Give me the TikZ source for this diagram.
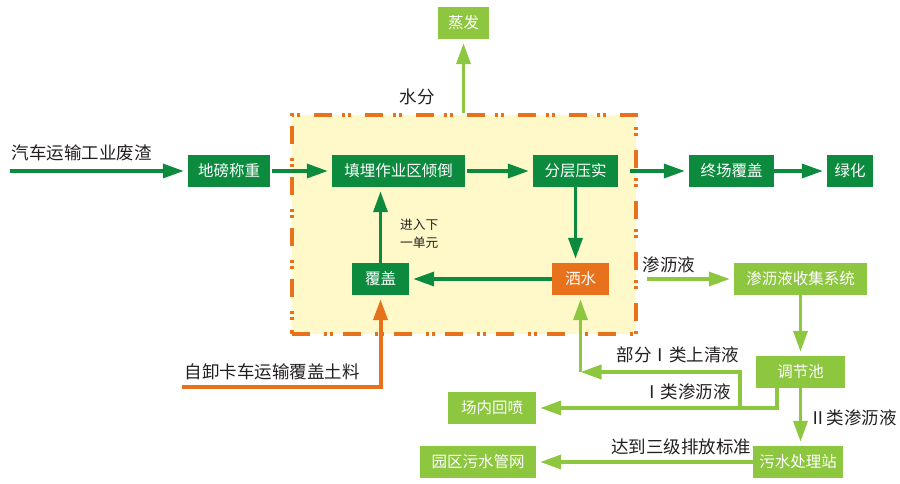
\documentclass[tikz,border=0pt]{standalone}
\usepackage{fontspec}
\setmainfont{Noto Sans CJK SC}
\usepackage{tikz}
\usetikzlibrary{arrows.meta}
\definecolor{darkgreen}{RGB}{12,138,62}
\definecolor{lightgreen}{RGB}{141,198,63}
\definecolor{landorange}{RGB}{232,114,28}
\definecolor{paleyellow}{RGB}{255,249,202}
\definecolor{inkgray}{RGB}{35,31,32}
\tikzstyle{box}=[minimum height=32pt,inner sep=0pt,text=white,font=\fontsize{15.5}{18}\selectfont]
\tikzstyle{darkbox}=[box,fill=darkgreen]
\tikzstyle{lightbox}=[box,fill=lightgreen]
\tikzstyle{orangebox}=[box,fill=landorange]
\tikzstyle{caption}=[text=inkgray,inner sep=0pt,font=\fontsize{17.5}{20}\selectfont]
\tikzstyle{flow}=[line width=3.5pt,-{Triangle[length=21pt,width=14pt]},shorten >=4pt]
\tikzstyle{darkflow}=[flow,draw=darkgreen]
\tikzstyle{lightflow}=[flow,draw=lightgreen]
\tikzstyle{orangeflow}=[flow,draw=landorange,line width=4pt]

\begin{document}
\begin{tikzpicture}[x=1pt,y=-1pt]
      \useasboundingbox (0,0) rectangle (900,483);
      \node[draw=landorange,fill=paleyellow,line width=4pt,dash pattern=on 18pt off 14pt on 3pt off 3pt on 3pt off 10pt,
            minimum width=344pt,minimum height=219pt,inner sep=0pt] at (464,224.5) (zone) {};

      \node[lightbox,minimum width=51pt]  at (463.5, 23) (zhengfa) {蒸发};
      \node[darkbox,minimum width=82pt]   at (229, 171)  (dibang) {地磅称重};
      \node[darkbox,minimum width=133pt]  at (398.5, 171) (tianmai) {填埋作业区倾倒};
      \node[darkbox,minimum width=85pt]   at (575.5, 171) (yashi) {分层压实};
      \node[darkbox,minimum width=85pt]   at (731.5, 171) (zhongchang) {终场覆盖};
      \node[darkbox,minimum width=46pt]   at (850, 171)  (lvhua) {绿化};
      \node[orangebox,minimum width=57pt] at (580.5, 279) (sashui) {洒水};
      \node[darkbox,minimum width=57pt]   at (380.5, 279) (fugai) {覆盖};
      \node[lightbox,minimum width=133pt] at (800.5, 279) (shouji) {渗沥液收集系统};
      \node[lightbox,minimum width=89pt]  at (800.5, 372) (tiaojie) {调节池};
      \node[lightbox,minimum width=90pt]  at (798, 462)  (wushui) {污水处理站};
      \node[lightbox,minimum width=88pt]  at (492, 408)  (huipen) {场内回喷};
      \node[lightbox,minimum width=116pt] at (478, 462)  (guanwang) {园区污水管网};

      \node[caption] at (82, 153)  (qiche) {汽车运输工业废渣};
      \node[caption] at (417, 97)  (shuifen) {水分};
      \node[caption,font=\fontsize{12.7}{18}\selectfont,align=left,anchor=west] at (400, 234) (jinru) {进入下\\一单元};
      \node[caption] at (272, 372) (zixie) {自卸卡车运输覆盖土料};
      \node[caption] at (669, 265) (shenli) {渗沥液};
      \node[caption] at (678, 355) (bufen) {部分Ⅰ类上清液};
      \node[caption] at (687, 392) (leiyi) {Ⅰ类渗沥液};
      \node[caption] at (853, 418) (leier) {Ⅱ类渗沥液};
      \node[caption] at (681, 447) (dadao) {达到三级排放标准};

      \coordinate (truck) at (10, 171);
      \coordinate (soil) at (182, 387);
      \coordinate (leach) at (647, 279);
      \coordinate (split) at (740, 408);

      \draw[darkflow] (truck) -- (dibang);
      \draw[darkflow,shorten <=2pt] (dibang) -- (tianmai);
      \draw[darkflow,shorten <=2pt] (tianmai) -- (yashi);
      \draw[darkflow,shorten <=12pt] (yashi) -- (zhongchang);
      \draw[darkflow] (zhongchang) -- (lvhua);
      \draw[darkflow] (yashi.south) -- (yashi.south |- sashui.north);
      \draw[darkflow] (sashui) -- (fugai);
      \draw[darkflow] (fugai.north) -- (fugai.north |- tianmai.south);
      \draw[orangeflow] (soil) -| (fugai.south);
      \draw[lightflow] (zone.north -| zhengfa.south) -- (zhengfa.south);
      \draw[lightflow] (leach) -- (shouji);
      \draw[lightflow] (shouji) -- (tiaojie);
      \draw[lightflow] (tiaojie.south) -- (tiaojie.south |- wushui.north);
      \draw[lightflow] ([xshift=-23.5pt]tiaojie.south) |- (huipen.east);
      \draw[lightflow,shorten >=0pt] (split) |- (sashui.south |- tiaojie);
      \draw[lightflow] (sashui.south |- tiaojie) -- (sashui.south);
      \draw[lightflow] (wushui) -- (guanwang);
\end{tikzpicture}
\end{document}
